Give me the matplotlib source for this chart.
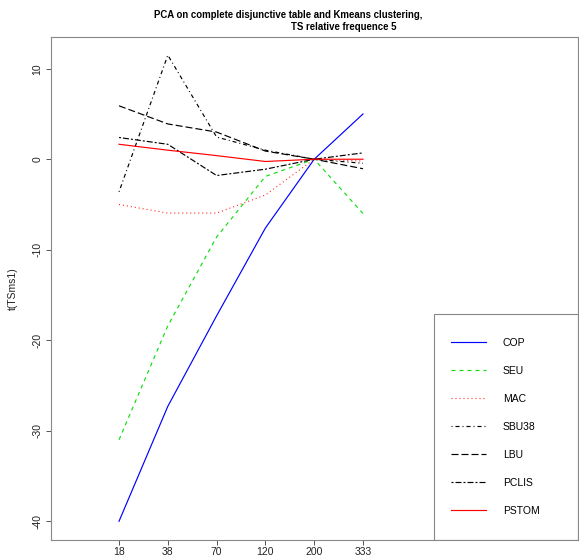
import matplotlib
matplotlib.use("Agg")
import matplotlib.pyplot as plt
from matplotlib.patches import Rectangle
from matplotlib.lines import Line2D

plt.rcParams['font.family'] = ['Liberation Sans', 'DejaVu Sans']
plt.rcParams['lines.scale_dashes'] = False

# data
sizes = ["18", "38", "70", "120", "200", "333"]
series_names = ["COP", "SEU", "MAC", "SBU38", "LBU", "PCLIS", "PSTOM"]
cop = [-40.0, -27.3, -17.3, -7.6, 0.0, 5.0]
seu = [-31.0, -18.4, -8.6, -1.9, 0.0, -6.0]
mac = [-5.0, -5.95, -5.95, -3.95, 0.0, -0.2]
sbu38 = [-3.6, 11.5, 2.45, 1.0, 0.0, -0.45]
lbu = [5.9, 3.9, 3.0, 0.9, 0.0, -1.05]
pclis = [2.4, 1.65, -1.8, -1.1, 0.0, 0.7]
pstom = [1.65, 1.0, 0.4, -0.25, 0.0, 0.0]

# R style line types (pixels -> points at 100 dpi)
px = 0.72
styles = {
    "COP": ("#0000ff", "-"),
    "SEU": ("#11dd11", (0, (4 * px, 4 * px))),
    "MAC": ("#ff2020", (0, (1 * px, 3 * px))),
    "SBU38": ("black", (0, (1 * px, 3 * px, 4 * px, 3 * px))),
    "LBU": ("black", (0, (7 * px, 3 * px))),
    "PCLIS": ("black", (0, (2 * px, 2 * px, 6 * px, 2 * px))),
    "PSTOM": ("#ff0000", "-"),
}

W, H = 579, 560
fig = plt.figure(figsize=(W / 100, H / 100), dpi=100)
left, right, top, bottom = 50.7, 577.7, 37.3, 540.3
ax = fig.add_axes([left / W, 1 - bottom / H, (right - left) / W, (bottom - top) / H])

x = list(range(1, len(sizes) + 1))
data = [cop, seu, mac, sbu38, lbu, pclis, pstom]
for name, vals in zip(series_names, data):
    col, ls = styles[name]
    ax.plot(x, vals, color=col, linestyle=ls, linewidth=0.85)

ax.set_xlim(-0.4, 10.4)
ax.set_ylim(-42.1, 13.47)
ax.set_xticks(x)
ax.set_xticklabels(sizes)
ax.set_yticks([-40, -30, -20, -10, 0, 10])
ax.set_yticklabels(["-40", "-30", "-20", "-10", "0", "10"], rotation=90, va="center")
ax.tick_params(direction="out", length=3.6, width=0.7, colors="#555555", labelsize=7.5,
               labelcolor="#222222", pad=2.5)
ax.tick_params(axis="x", pad=1.5)
for s in ax.spines.values():
    s.set_color("#888888")
    s.set_linewidth(0.8)
ax.set_ylabel("t(TSms1)", fontsize=7.5, color="#222222", labelpad=10)

# legend box
bx0 = (434 - left) / (right - left)
by0 = 0.0
bw = 1.0 - bx0
bh = (bottom - 313.7) / (bottom - top)
ax.add_patch(Rectangle((bx0, by0), bw, bh, transform=ax.transAxes, fill=False,
                       edgecolor="#888888", linewidth=0.8, zorder=5))
handles = [Line2D([], [], color=styles[n][0], linestyle=styles[n][1], linewidth=0.85)
           for n in series_names]
hx = (450.7 - left) / (right - left)
ax.legend(handles, series_names, loc="center left",
          bbox_to_anchor=(hx, by0 + bh / 2), frameon=False, fontsize=7.5,
          handlelength=3.4, handletextpad=1.6, labelspacing=1.73,
          borderpad=0, borderaxespad=0)

fig.text(288 / W, 1 - 15 / H, "PCA on complete disjunctive table and Kmeans clustering,",
         ha="center", va="center", fontsize=6.9, fontweight="bold")
fig.text(344 / W, 1 - 27.5 / H, "TS relative frequence 5",
         ha="center", va="center", fontsize=6.9, fontweight="bold")

fig.savefig("out.png", dpi=100)
